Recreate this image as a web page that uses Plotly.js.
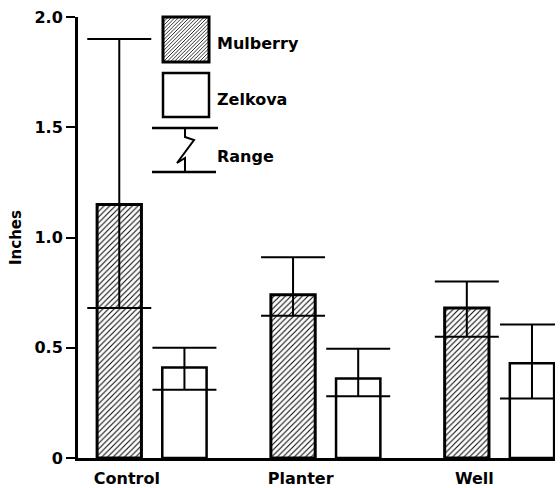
<!DOCTYPE html>
<html>
<head>
<meta charset="utf-8">
<script src="https://cdn.plot.ly/plotly-3.0.1.min.js"></script>
<style>html,body{margin:0;padding:0;background:#fff;}#chart{width:560px;height:488px;}</style>
</head>
<body>
<div id="chart"></div>
<script>
const categories = ['Control', 'Planter', 'Well'];
const mulberryMean = [1.15, 0.74, 0.68];
const mulberryMax = [1.90, 0.91, 0.80];
const mulberryMin = [0.68, 0.645, 0.55];
const zelkovaMean = [0.41, 0.36, 0.43];
const zelkovaMax = [0.50, 0.495, 0.605];
const zelkovaMin = [0.31, 0.28, 0.27];
const yTickVals = [0, 0.5, 1.0, 1.5, 2.0];
const yTickText = ['0', '0.5', '1.0', '1.5', '2.0'];
const legendNames = ['Mulberry', 'Zelkova', 'Range'];

const FONT = 'DejaVu Sans, Liberation Sans, sans-serif';
const M = {l: 78, r: 5, t: 17, b: 30};
const W = 560, H = 488;
const PW = W - M.l - M.r, PH = H - M.t - M.b;
const px = x => (x - M.l) / PW;
const py = y => (H - M.b - y) / PH;

function errBar(mean, mx, mn) {
  return {
    type: 'data', symmetric: false,
    array: mean.map((v, i) => mx[i] - v),
    arrayminus: mean.map((v, i) => v - mn[i]),
    color: '#000', thickness: 2, width: 32
  };
}

const traces = [
  {
    type: 'bar', name: legendNames[0], x: categories, y: mulberryMean,
    marker: {color: '#fff', line: {color: '#000', width: 3},
      pattern: {shape: '/', fgcolor: '#000', bgcolor: '#fff', size: 4, solidity: 0.25}},
    error_y: errBar(mulberryMean, mulberryMax, mulberryMin),
    cliponaxis: false, showlegend: false
  },
  {
    type: 'bar', name: legendNames[1], x: categories, y: zelkovaMean,
    marker: {color: '#fff', line: {color: '#000', width: 2.5}},
    error_y: errBar(zelkovaMean, zelkovaMax, zelkovaMin),
    cliponaxis: false, showlegend: false
  }
];

// Legend drawn as decoration
const shapes = [];
const ann = [];
function rectPx(x0, y0, x1, y1, w) {
  shapes.push({type: 'rect', xref: 'paper', yref: 'paper',
    x0: px(x0), x1: px(x1), y0: py(y1), y1: py(y0),
    line: {color: '#000', width: w}, fillcolor: 'rgba(0,0,0,0)'});
}
(function () {
  const x0 = 163, y0 = 17, x1 = 209, y1 = 62;
  const w = x1 - x0, h = y1 - y0, s = 3.6;
  let d = '';
  for (let c = -h + s / 2; c < w; c += s) {
    const uS = Math.max(0, c), uE = Math.min(w, c + h);
    if (uE <= uS) continue;
    const vS = uS - c, vE = uE - c;
    d += `M${px(x0 + uS)},${py(y1 - vS)} L${px(x0 + uE)},${py(y1 - vE)} `;
  }
  shapes.push({type: 'path', xref: 'paper', yref: 'paper', path: d,
    line: {color: '#000', width: 0.8}});
})();
rectPx(163, 17, 209, 62, 3);
rectPx(163, 73, 209, 117, 2.5);
const lp = (pts) => pts.map((p, i) => (i ? 'L' : 'M') + px(p[0]) + ',' + py(p[1])).join(' ');
shapes.push({type: 'path', xref: 'paper', yref: 'paper', path: lp([[152, 128], [218, 128]]), line: {color: '#000', width: 2.5}});
shapes.push({type: 'path', xref: 'paper', yref: 'paper', path: lp([[152, 172], [216, 172]]), line: {color: '#000', width: 2.5}});
shapes.push({type: 'path', xref: 'paper', yref: 'paper',
  path: lp([[185, 128], [185, 137], [194, 140], [177, 163], [185, 158], [185, 172]]),
  line: {color: '#000', width: 2}});

const legY = [44, 99, 156];
legendNames.forEach((n, i) => ann.push({
  xref: 'paper', yref: 'paper', x: px(215), y: py(legY[i]), xanchor: 'left', yanchor: 'middle',
  text: n, showarrow: false, font: {family: FONT, size: 16, color: '#000', weight: 700}
}));

const layout = {
  width: W, height: H, margin: M,
  paper_bgcolor: '#fff', plot_bgcolor: '#fff',
  barmode: 'group', bargap: 0.25, bargroupgap: 0.32,
  showlegend: false,
  font: {family: FONT, color: '#000', size: 14, weight: 700},
  xaxis: {
    type: 'category', range: [-0.425, 2.32], showgrid: false, zeroline: false,
    showline: true, linecolor: '#000', linewidth: 3, ticks: '',
    ticklabelshift: -25, ticklabelstandoff: 4,
    tickfont: {family: FONT, size: 16, weight: 700}
  },
  yaxis: {
    range: [0, 2.0], showgrid: false, zeroline: false,
    showline: true, linecolor: '#000', linewidth: 3,
    ticks: 'outside', ticklen: 9, tickwidth: 2, tickcolor: '#000',
    tickvals: yTickVals, ticktext: yTickText,
    tickfont: {family: FONT, size: 16, weight: 700},
    title: {text: 'Inches', font: {family: FONT, size: 15, weight: 700}, standoff: 10}
  },
  shapes: shapes, annotations: ann
};

Plotly.newPlot('chart', traces, layout, {staticPlot: true, displayModeBar: false});
</script>
</body>
</html>
